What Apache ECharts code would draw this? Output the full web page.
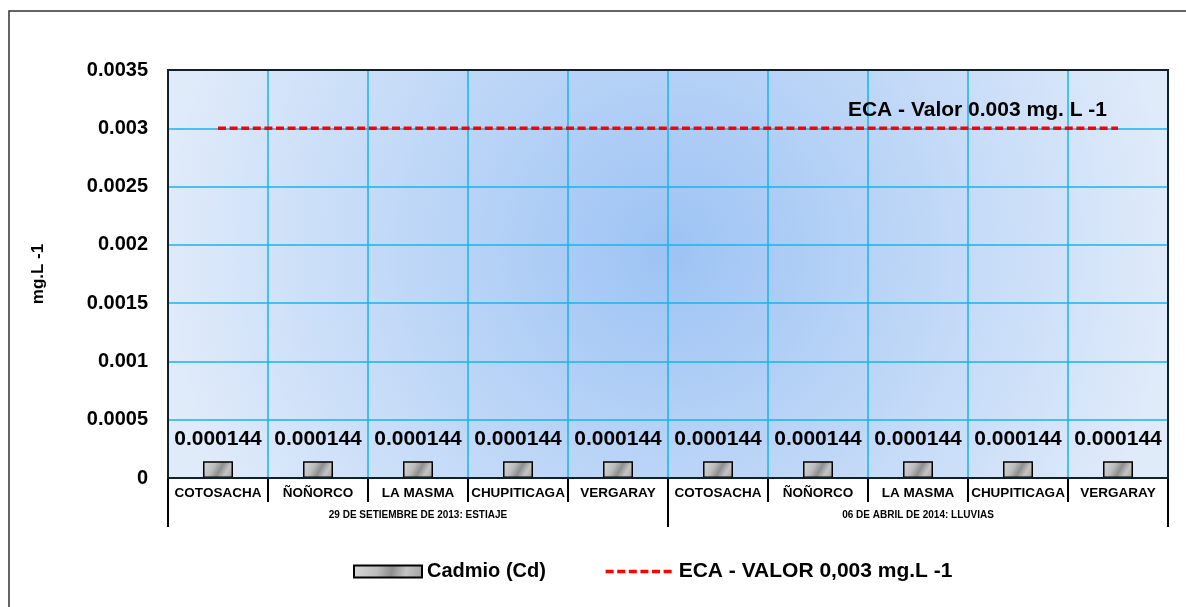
<!DOCTYPE html>
<html>
<head>
<meta charset="utf-8">
<script src="https://cdn.jsdelivr.net/npm/echarts@6/dist/echarts.min.js"></script>
<style>
  html, body { margin: 0; padding: 0; background: #fff; }
  #chart { width: 1186px; height: 607px; }
</style>
</head>
<body>
<div id="chart"></div>
<script>
const estaciones = ['COTOSACHA', 'ÑOÑORCO', 'LA MASMA', 'CHUPITICAGA', 'VERGARAY',
  'COTOSACHA', 'ÑOÑORCO', 'LA MASMA', 'CHUPITICAGA', 'VERGARAY'];
const periodos = ['29 DE SETIEMBRE DE 2013: ESTIAJE', '06 DE ABRIL DE 2014: LLUVIAS'];
const cadmio = [0.000144, 0.000144, 0.000144, 0.000144, 0.000144,
  0.000144, 0.000144, 0.000144, 0.000144, 0.000144];
const eca = [0.003, 0.003, 0.003, 0.003, 0.003, 0.003, 0.003, 0.003, 0.003, 0.003];

const FONT = 'Arial, "Liberation Sans", sans-serif';
const chart = echarts.init(document.getElementById('chart'));

chart.setOption({
  animation: false,
  textStyle: { fontFamily: FONT },
  graphic: [{
    type: 'rect', z: -10, silent: true,
    shape: { x: 9, y: 11, width: 1200, height: 700 },
    style: { fill: 'none', stroke: '#333', lineWidth: 1.5 }
  }, {
    // plot frame drawn over the grid lines
    type: 'rect', z: 100, silent: true,
    shape: { x: 168, y: 70, width: 1000, height: 408 },
    style: { fill: 'none', stroke: '#10202e', lineWidth: 2 }
  }],
  grid: {
    left: 168, right: 18, top: 70, bottom: 129,
    show: true,
    borderWidth: 0,
    backgroundColor: {
      type: 'radial', x: 0.5, y: 0.44, r: 1.25,
      colorStops: [
        { offset: 0, color: '#9dc3f4' },
        { offset: 1, color: '#e0ebfa' }
      ]
    }
  },
  legend: {
    left: 348, top: 556,
    itemWidth: 68, itemHeight: 12, itemGap: 58,
    textStyle: { fontSize: 20, fontWeight: 'bold', color: '#000', fontFamily: FONT },
    data: [
      { name: 'Cadmio (Cd)', icon: 'rect' },
      { name: 'ECA - VALOR 0,003 mg.L -1', itemStyle: { opacity: 0 },
        lineStyle: { width: 3.5, type: [8, 3.6], color: '#ff0000' },
        textStyle: { fontSize: 21 } }
    ]
  },
  xAxis: [{
    type: 'category', data: estaciones,
    axisLine: { lineStyle: { color: '#000', width: 2 } },
    axisTick: { show: true, interval: 0, length: 24, lineStyle: { color: '#000', width: 2 } },
    axisLabel: { interval: 0, margin: 8, fontSize: 13.5, fontWeight: 'bold', color: '#000' },
    splitLine: { show: true, interval: 0, lineStyle: { color: '#14b4ee', width: 1.5 } }
  }, {
    type: 'category', data: periodos, position: 'bottom',
    axisLine: { show: false },
    axisTick: { show: true, interval: 0, length: 49, lineStyle: { color: '#000', width: 2 } },
    axisLabel: { interval: 0, margin: 32, fontSize: 10, fontWeight: 'bold', color: '#000' },
    splitLine: { show: false }
  }],
  yAxis: {
    type: 'value', min: 0, max: 0.0035, interval: 0.0005,
    name: 'mg.L -1', nameLocation: 'middle', nameRotate: 90, nameGap: 121,
    nameTextStyle: { fontSize: 17, fontWeight: 'bold', color: '#000' },
    axisLine: { show: false },
    axisTick: { show: false },
    axisLabel: {
      margin: 20, fontSize: 20, fontWeight: 'bold', color: '#000',
      formatter: v => String(+v.toFixed(4))
    },
    splitLine: { show: true, lineStyle: { color: '#14b4ee', width: 1.5 } }
  },
  series: [{
    name: 'Cadmio (Cd)', type: 'bar', data: cadmio,
    barWidth: 30,
    itemStyle: {
      borderColor: '#000', borderWidth: 1.5,
      color: {
        type: 'linear', x: 0, y: 0, x2: 1, y2: 1,
        colorStops: [
          { offset: 0, color: '#d8d8d8' },
          { offset: 0.35, color: '#bdbdbd' },
          { offset: 0.55, color: '#8e8e8e' },
          { offset: 0.75, color: '#c4c4c4' },
          { offset: 1, color: '#a0a0a0' }
        ]
      }
    },
    label: {
      show: true, position: 'top', distance: 12,
      fontSize: 21, fontWeight: 'bold', color: '#000',
      formatter: p => String(p.value)
    }
  }, {
    name: 'ECA - VALOR 0,003 mg.L -1', type: 'line', data: eca,
    symbol: 'none',
    lineStyle: { color: '#ff0000', width: 3.5, type: [8, 3.6] },
    itemStyle: { color: '#ff0000' },
    markPoint: {
      symbol: 'circle', symbolSize: 1,
      itemStyle: { color: 'transparent' },
      data: [{ coord: [9, 0.003] }],
      label: {
        show: true, position: 'top', align: 'right', offset: [-11, -2],
        fontSize: 21, fontWeight: 'bold', color: '#000',
        formatter: 'ECA - Valor 0.003 mg. L -1'
      }
    }
  }]
});
</script>
</body>
</html>
